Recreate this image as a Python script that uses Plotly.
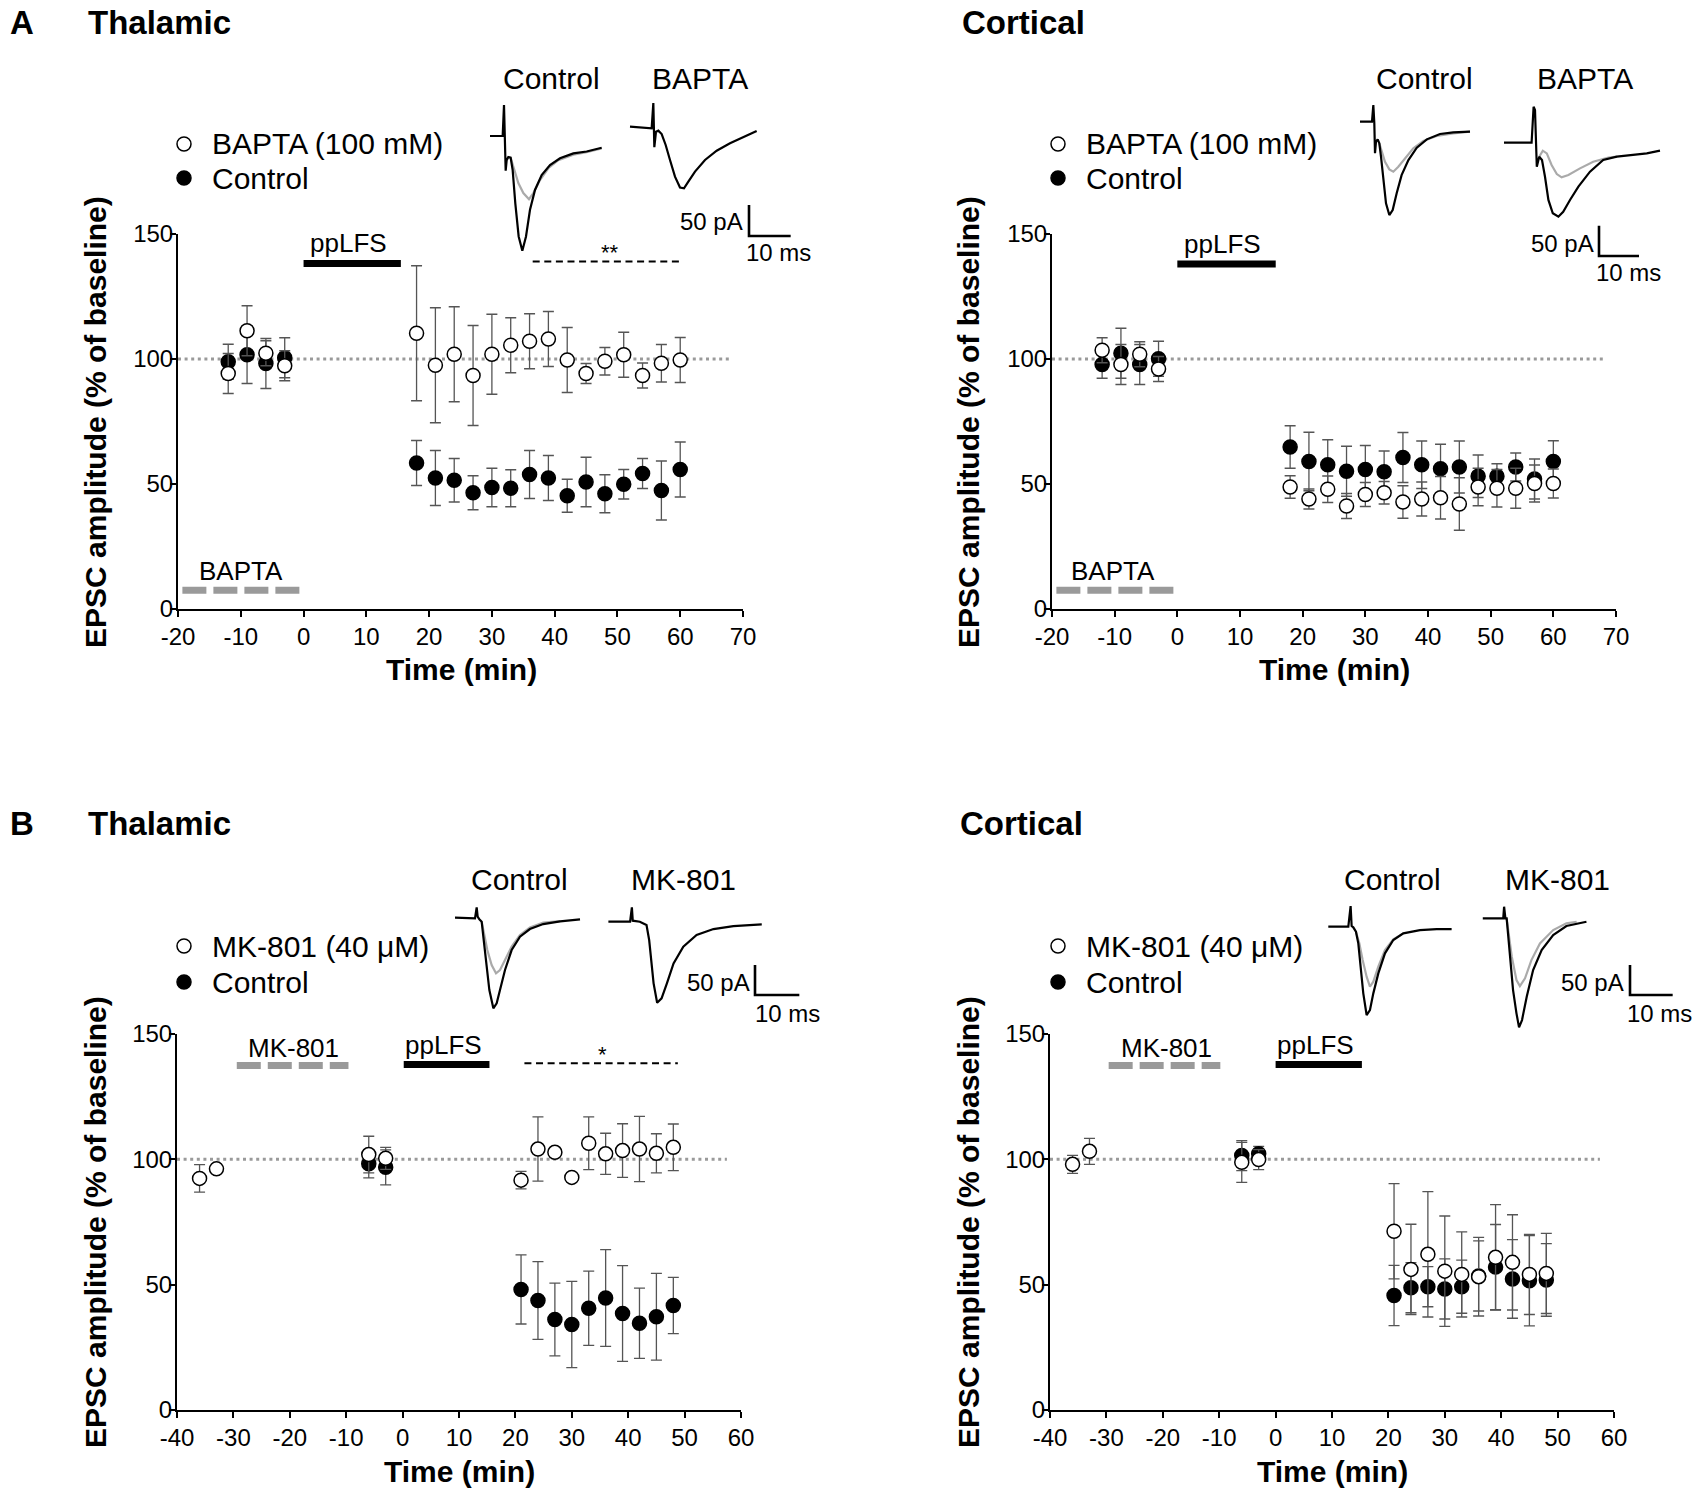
import plotly.graph_objects as go

W, H = 1700, 1497
FONT = "Liberation Sans, Arial, sans-serif"

# ---------------- data ----------------
# Panel A: BAPTA experiments, time in min, EPSC amplitude in % of baseline
t_A = [-12, -9, -6, -3, 18, 21, 24, 27, 30, 33, 36, 39, 42, 45, 48, 51, 54, 57, 60]

A_thal_bapta = [94.2, 111.3, 102.3, 97.3, 110.3, 97.5, 101.9, 93.4, 101.9, 105.5,
                107.1, 108.0, 99.6, 94.2, 99.1, 101.7, 93.4, 98.3, 99.6]
A_thal_bapta_err = [8, 10, 5, 6, 27, 23, 19, 20, 16, 11, 11, 11, 13, 4, 5.5, 9, 5, 7.5, 9]
A_thal_ctrl = [98.9, 101.7, 98.2, 100.5, 58.4, 52.4, 51.5, 46.5, 48.6, 48.3,
               53.8, 52.4, 45.3, 50.8, 46.1, 49.9, 54.2, 47.4, 55.8]
A_thal_ctrl_err = [7, 11.5, 10, 8, 9, 11, 8.7, 6.8, 7.7, 7.4, 9.6, 9, 6.6, 9.9, 7.6, 5.9, 6, 11.8, 11]

A_cort_bapta = [103.5, 97.8, 101.9, 96.0, 48.8, 44.0, 47.9, 41.2, 45.8, 46.5,
                42.8, 44.0, 44.5, 42.0, 48.8, 48.3, 48.3, 50.2, 50.2]
A_cort_bapta_err = [5, 8, 5, 5, 4.5, 4, 5.3, 5, 4.8, 4.5, 6.5, 6.8, 8.5, 10.5, 7.5, 7.5, 8, 7.4, 5.8]
A_cort_ctrl = [97.8, 102.3, 97.8, 100.1, 64.8, 59.0, 57.7, 55.1, 55.8, 54.9,
               60.6, 57.7, 56.1, 56.8, 53.1, 53.1, 56.8, 52.0, 59.0]
A_cort_ctrl_err = [5.5, 10, 8, 7, 8.5, 11.7, 10, 10, 9.6, 8.3, 10, 9.5, 9.8, 10.4, 8.5, 5, 5.6, 8, 8.3]

# Panel B: MK-801 experiments
t_B_drug = [-36, -33, -6, -3, 21, 24, 27, 30, 33, 36, 39, 42, 45, 48]
t_B_ctrl = [-6, -3, 21, 24, 27, 30, 33, 36, 39, 42, 45, 48]

B_thal_mk = [92.4, 96.2, 101.9, 100.4, 91.7, 104.1, 102.8, 92.8, 106.4, 102.2, 103.5, 104.1, 102.4, 104.8]
B_thal_mk_err = [5.5, 0, 7.3, 4.4, 3.5, 12.8, 0, 0, 10.5, 8.2, 10.7, 13, 7.8, 9.3]
B_thal_ctrl = [98.2, 96.8, 48.1, 43.7, 36.1, 34.1, 40.6, 44.7, 38.5, 34.6, 37.2, 41.7]
B_thal_ctrl_err = [5.6, 7, 13.8, 15.5, 14.5, 17.2, 14.8, 19.3, 19.1, 14, 17.3, 11.2]

B_cort_mk = [98.0, 103.2, 98.8, 99.9, 71.3, 56.1, 62.1, 55.4, 54.1, 53.2, 60.9, 58.9, 54.1, 54.5]
B_cort_mk_err = [3.6, 5.2, 8, 4, 19, 18, 25, 22, 17, 15.7, 21, 19, 16, 16]
B_cort_ctrl = [101.5, 102.2, 45.7, 48.8, 49.2, 48.3, 49.2, 53.5, 57.0, 52.3, 51.6, 51.9]
B_cort_ctrl_err = [6, 3, 12, 10, 8, 12, 10.6, 14, 17, 15.7, 18, 14.5]

# treatment periods / significance spans (min)
A_thal_drug_period = [-19.3, -0.65]
A_thal_pplfs = [0, 15.5]
A_thal_sig = [36.5, 60.5]
A_cort_drug_period = [-19.3, -0.45]
A_cort_pplfs = [0, 15.7]
B_thal_drug_period = [-29.4, -9.6]
B_thal_pplfs = [0.2, 15.4]
B_thal_sig = [21.6, 48.8]
B_cort_drug_period = [-29.6, -9.8]
B_cort_pplfs = [0, 15.3]

# Example EPSC traces (time in ms, current in pA)
A_thal_tr_ctrl_t = [0, 3.04, 3.36, 3.6, 3.76, 4.0, 4.4, 4.96, 5.44, 6.08, 6.88, 7.76, 8.64, 9.6, 10.8, 12.4, 14.4, 16.8, 20.0, 23.2, 26.8]
A_thal_tr_ctrl_i = [0, 0, 50, -2, -56, -39, -34, -35, -55, -109, -162, -185, -162, -119, -87, -63, -47, -36, -28, -25, -19]
A_thal_tr_ctrl_post_t = [4.96, 5.6, 6.8, 8.0, 9.36, 10.4, 12.0, 14.0, 16.4, 20.0, 23.2, 26.8]
A_thal_tr_ctrl_post_i = [-35, -49, -76, -92, -102, -92, -71, -52, -39, -30, -26, -20]
A_thal_tr_drug_t = [33.6, 38.8, 39.2, 39.44, 39.84, 40.4, 41.2, 42.16, 43.2, 44.4, 45.6, 46.56, 47.6, 49.2, 51.6, 54.4, 57.6, 60.8, 64.0]
A_thal_tr_drug_i = [15, 12.4, 53, -18, 7, 8.6, 3.2, -14.5, -38.7, -65.6, -83, -84.4, -73.7, -57.5, -38.7, -23.7, -11.8, -2.2, 8]

A_cort_tr_ctrl_t = [0, 3.0, 3.33, 3.58, 3.75, 4.0, 4.42, 4.83, 5.25, 5.83, 6.5, 7.33, 8.17, 9.17, 10.4, 12.1, 14.2, 16.7, 20.0, 23.3, 27.5]
A_cort_tr_ctrl_i = [0, 0, 27.5, -2.7, -52, -33, -29, -35.7, -57.7, -96, -134.6, -153.9, -145.6, -118, -88, -63.2, -42.9, -29.1, -20.3, -17.6, -16.5]
A_cort_tr_ctrl_post_t = [4.83, 5.42, 6.25, 7.33, 8.33, 9.58, 11.25, 13.33, 15.83, 19.17, 23.3, 27.5]
A_cort_tr_ctrl_post_i = [-35.7, -49.5, -66, -78.6, -82.4, -74.2, -60.4, -44, -31.9, -23.6, -19.2, -16.5]
A_cort_tr_drug_t = [36.0, 42.9, 43.4, 43.75, 44.2, 44.8, 45.5, 46.25, 47.1, 48.2, 49.6, 50.8, 52.5, 54.6, 57.5, 60.8, 64.2, 67.5, 71.7, 75.0]
A_cort_tr_drug_i = [-34.6, -34.6, 24.7, 19.2, -74.2, -57.7, -63.2, -90.7, -129, -151, -156.6, -148.4, -129, -107, -82.4, -63.2, -57.7, -55, -52.2, -47.8]
A_cort_tr_drug_post_t = [44.8, 45.7, 46.7, 47.9, 49.2, 50.4, 52.1, 55.0, 58.3, 62.1, 64.2]
A_cort_tr_drug_post_i = [-57.7, -47.8, -52.2, -71.4, -86.3, -91.8, -87.9, -76.9, -65.9, -59.3, -57.7]

B_thal_tr_ctrl_t = [0, 4.51, 4.89, 5.11, 5.49, 6.02, 6.39, 7.0, 7.75, 8.65, 9.4, 10.15, 11.28, 12.78, 14.66, 16.9, 19.9, 23.7, 28.2]
B_thal_tr_ctrl_i = [0, -1.1, 17.2, 1.7, -2.8, -6.7, -31.7, -76, -120.6, -151, -142.8, -120.6, -87.2, -53.9, -31.7, -18.9, -10.6, -6.1, -2.8]
B_thal_tr_ctrl_post_t = [6.02, 6.54, 7.29, 8.27, 9.25, 10.15, 11.28, 12.78, 14.66, 16.9, 19.9, 23.7]
B_thal_tr_ctrl_post_i = [-6.7, -26.1, -53.9, -78.9, -92.8, -87.2, -70.6, -48.3, -28.9, -16.1, -8.3, -5.6]
B_thal_tr_drug_t = [34.6, 39.5, 39.9, 40.1, 41.7, 43.2, 43.8, 44.3, 44.8, 45.6, 46.6, 47.8, 49.3, 51.5, 54.5, 58.3, 62.8, 69.2]
B_thal_tr_drug_i = [-6.7, -6.7, 17.2, -5, -6.7, -12.2, -37.2, -70.6, -109.4, -141.7, -134.5, -109.4, -76.1, -48.3, -28.9, -18.9, -13.9, -11.1]

B_cort_tr_ctrl_t = [0, 4.69, 5.23, 5.47, 5.86, 6.48, 7.03, 7.58, 8.2, 8.98, 9.76, 10.55, 11.72, 13.28, 15.23, 17.58, 21.48, 25.4, 28.9]
B_cort_tr_ctrl_i = [0, 0, 34.4, 1.1, -1.1, -8.3, -27.8, -66.7, -111.1, -147.2, -138.9, -111.1, -77.8, -44.4, -22.2, -11.1, -5.6, -3.9, -3.9]
B_cort_tr_ctrl_post_t = [6.48, 7.27, 8.05, 8.98, 9.76, 10.55, 11.72, 13.28, 15.23, 17.58]
B_cort_tr_ctrl_post_i = [-8.3, -27.8, -55.6, -83.3, -100, -91.7, -66.7, -38.9, -21.1, -11.1]
B_cort_tr_drug_t = [36.2, 41.0, 41.2, 41.5, 41.8, 42.2, 42.7, 43.3, 44.1, 44.7, 45.4, 46.5, 48.0, 50.0, 52.7, 55.8, 60.5]
B_cort_tr_drug_i = [13.9, 13.9, 33.3, 13.9, 13.9, -16.7, -61.1, -105.6, -144.4, -167.8, -155.6, -116.7, -72.2, -38.9, -13.9, 1.1, 8.3]
B_cort_tr_drug_post_t = [41.8, 42.3, 43.0, 44.1, 44.9, 46.1, 47.6, 49.6, 52.7, 55.8, 58.2]
B_cort_tr_drug_post_i = [13.9, -13.9, -50, -88.9, -98.9, -86.1, -55.6, -27.8, -5.6, 5.6, 8.3]

SCALE_MS = 10
SCALE_PA = 50

# ---------------- figure ----------------
fig = go.Figure()
layout = dict(width=W, height=H, margin=dict(l=0, r=0, t=0, b=0, autoexpand=False), autosize=False,
              paper_bgcolor="white", plot_bgcolor="rgba(0,0,0,0)", showlegend=False)
annotations = []
shapes = []


def ann(px, py, text, size, bold=False, xanchor="center", yanchor="middle", angle=0, color="black"):
    annotations.append(dict(x=px / W, y=1 - py / H, xref="paper", yref="paper", text=text,
                            showarrow=False, xanchor=xanchor, yanchor=yanchor, textangle=angle,
                            font=dict(family=FONT, size=size, color=color,
                                      weight="bold" if bold else "normal")))


axis_common = dict(showline=True, linecolor="black", linewidth=2, ticks="outside", ticklen=6,
                   tickwidth=2, tickcolor="black", showgrid=False, zeroline=False,
                   tickfont=dict(family=FONT, size=24, color="black"), fixedrange=True)

panels = [
    dict(n=1, px=(178, 743), py=(234, 609), xr=(-20, 70), t_d=t_A, t_c=t_A,
         drug=A_thal_bapta, drug_err=A_thal_bapta_err, ctrl=A_thal_ctrl, ctrl_err=A_thal_ctrl_err,
         period=A_thal_drug_period, period_y=7.5, period_lab="BAPTA", period_lab_xy=(-10, 15.2),
         pplfs=A_thal_pplfs, pplfs_y=138.2, sig=A_thal_sig, sig_text="**", sig_y=139, sig_lab_xy=(48.8, 142.6),
         dot_end=68),
    dict(n=2, px=(1052, 1616), py=(234, 609), xr=(-20, 70), t_d=t_A, t_c=t_A,
         drug=A_cort_bapta, drug_err=A_cort_bapta_err, ctrl=A_cort_ctrl, ctrl_err=A_cort_ctrl_err,
         period=A_cort_drug_period, period_y=7.5, period_lab="BAPTA", period_lab_xy=(-10.3, 15.2),
         pplfs=A_cort_pplfs, pplfs_y=138, sig=None, dot_end=68),
    dict(n=3, px=(177, 741), py=(1034, 1410), xr=(-40, 60), t_d=t_B_drug, t_c=t_B_ctrl,
         drug=B_thal_mk, drug_err=B_thal_mk_err, ctrl=B_thal_ctrl, ctrl_err=B_thal_ctrl_err,
         period=B_thal_drug_period, period_y=137.4, period_lab="MK-801", period_lab_xy=(-19.3, 144.3),
         pplfs=B_thal_pplfs, pplfs_y=137.8, sig=B_thal_sig, sig_text="*", sig_y=138.3, sig_lab_xy=(35.5, 141.8),
         dot_end=57.5),
    dict(n=4, px=(1050, 1614), py=(1034, 1410), xr=(-40, 60), t_d=t_B_drug, t_c=t_B_ctrl,
         drug=B_cort_mk, drug_err=B_cort_mk_err, ctrl=B_cort_ctrl, ctrl_err=B_cort_ctrl_err,
         period=B_cort_drug_period, period_y=137.4, period_lab="MK-801", period_lab_xy=(-19.3, 144.3),
         pplfs=B_cort_pplfs, pplfs_y=137.8, sig=None, dot_end=57.5),
]

for p in panels:
    n = p["n"]
    xa, ya = f"x{n}", f"y{n}"
    xt = list(range(int(p["xr"][0]), int(p["xr"][1]) + 1, 10))
    layout[f"xaxis{n}"] = dict(axis_common, domain=[p["px"][0] / W, p["px"][1] / W],
                               range=list(p["xr"]), anchor=ya, tickvals=xt,
                               ticktext=[str(v) for v in xt], ticklabelstandoff=-1)
    layout[f"yaxis{n}"] = dict(axis_common, domain=[1 - p["py"][1] / H, 1 - p["py"][0] / H],
                               range=[0, 150], anchor=xa, tickvals=[0, 50, 100, 150],
                               ticktext=["0", "50", "100", "150"], ticklabelstandoff=-8)
    # control (filled) first, drug (open) on top
    fig.add_trace(go.Scatter(x=p["t_c"], y=p["ctrl"], mode="markers", xaxis=xa, yaxis=ya,
                             marker=dict(symbol="circle", size=14, color="black",
                                         line=dict(color="black", width=1.5)),
                             error_y=dict(type="data", array=p["ctrl_err"], color="#555",
                                          thickness=1.3, width=5.5), cliponaxis=False))
    fig.add_trace(go.Scatter(x=p["t_d"], y=p["drug"], mode="markers", xaxis=xa, yaxis=ya,
                             marker=dict(symbol="circle", size=14, color="white",
                                         line=dict(color="black", width=1.5)),
                             error_y=dict(type="data", array=p["drug_err"], color="#555",
                                          thickness=1.3, width=5.5), cliponaxis=False))
    # baseline dotted line
    shapes.append(dict(type="line", xref=xa, yref=ya, x0=p["xr"][0], x1=p["dot_end"], y0=100, y1=100,
                       layer="below", line=dict(color="#9a9a9a", width=3, dash="3px,3.6px")))
    # drug application bar (grey dashed)
    shapes.append(dict(type="line", xref=xa, yref=ya, x0=p["period"][0], x1=p["period"][1],
                       y0=p["period_y"], y1=p["period_y"],
                       line=dict(color="#9a9a9a", width=7, dash="24px,7px")))
    annotations.append(dict(x=p["period_lab_xy"][0], y=p["period_lab_xy"][1], xref=xa, yref=ya,
                            text=p["period_lab"], showarrow=False,
                            font=dict(family=FONT, size=26, color="black")))
    # ppLFS bar
    shapes.append(dict(type="line", xref=xa, yref=ya, x0=p["pplfs"][0], x1=p["pplfs"][1],
                       y0=p["pplfs_y"], y1=p["pplfs_y"], line=dict(color="black", width=7)))
    annotations.append(dict(x=(p["pplfs"][0] + p["pplfs"][1]) / 2 - 0.6, y=p["pplfs_y"] + 8,
                            xref=xa, yref=ya, text="ppLFS", showarrow=False,
                            font=dict(family=FONT, size=26, color="black")))
    if p["sig"] is not None:
        shapes.append(dict(type="line", xref=xa, yref=ya, x0=p["sig"][0], x1=p["sig"][1],
                           y0=p["sig_y"], y1=p["sig_y"],
                           line=dict(color="black", width=2, dash="7px,4.6px")))
        annotations.append(dict(x=p["sig_lab_xy"][0], y=p["sig_lab_xy"][1], xref=xa, yref=ya,
                                text=p["sig_text"], showarrow=False,
                                font=dict(family=FONT, size=22, color="black")))

# ---------------- insets with example traces ----------------
insets = [
    dict(n=5, origin=(490, 136), pxms=4.1667, pxpa=0.62, box=(470, 830, 88, 272), bar=(749, 236),
         ctrl=(A_thal_tr_ctrl_t, A_thal_tr_ctrl_i), ctrl_post=(A_thal_tr_ctrl_post_t, A_thal_tr_ctrl_post_i),
         drug=(A_thal_tr_drug_t, A_thal_tr_drug_i), drug_post=None),
    dict(n=6, origin=(1360, 121.7), pxms=4.0, pxpa=0.6067, box=(1340, 1690, 88, 290), bar=(1599, 256),
         ctrl=(A_cort_tr_ctrl_t, A_cort_tr_ctrl_i), ctrl_post=(A_cort_tr_ctrl_post_t, A_cort_tr_ctrl_post_i),
         drug=(A_cort_tr_drug_t, A_cort_tr_drug_i), drug_post=(A_cort_tr_drug_post_t, A_cort_tr_drug_post_i)),
    dict(n=7, origin=(455, 917.7), pxms=4.433, pxpa=0.6, box=(440, 840, 888, 1030), bar=(755, 995),
         ctrl=(B_thal_tr_ctrl_t, B_thal_tr_ctrl_i), ctrl_post=(B_thal_tr_ctrl_post_t, B_thal_tr_ctrl_post_i),
         drug=(B_thal_tr_drug_t, B_thal_tr_drug_i), drug_post=None),
    dict(n=8, origin=(1328.3, 926.7), pxms=4.267, pxpa=0.6, box=(1320, 1700, 888, 1040), bar=(1630, 995),
         ctrl=(B_cort_tr_ctrl_t, B_cort_tr_ctrl_i), ctrl_post=(B_cort_tr_ctrl_post_t, B_cort_tr_ctrl_post_i),
         drug=(B_cort_tr_drug_t, B_cort_tr_drug_i), drug_post=(B_cort_tr_drug_post_t, B_cort_tr_drug_post_i)),
]

for s in insets:
    n = s["n"]
    ox, oy = s["origin"]
    x1, x2, y1, y2 = s["box"]
    layout[f"xaxis{n}"] = dict(domain=[x1 / W, x2 / W], range=[(x1 - ox) / s["pxms"], (x2 - ox) / s["pxms"]],
                               anchor=f"y{n}", visible=False, fixedrange=True)
    layout[f"yaxis{n}"] = dict(domain=[1 - y2 / H, 1 - y1 / H],
                               range=[-(y2 - oy) / s["pxpa"], -(y1 - oy) / s["pxpa"]],
                               anchor=f"x{n}", visible=False, fixedrange=True)
    xa, ya = f"x{n}", f"y{n}"
    for tr, col in [(s["ctrl_post"], "#aaaaaa"), (s["drug_post"], "#aaaaaa"),
                    (s["ctrl"], "black"), (s["drug"], "black")]:
        if tr is None:
            continue
        fig.add_trace(go.Scatter(x=tr[0], y=tr[1], mode="lines", xaxis=xa, yaxis=ya,
                                 line=dict(color=col, width=2.2), hoverinfo="skip"))
    # scale bar
    bt = (s["bar"][0] - ox) / s["pxms"]
    bi = -(s["bar"][1] - oy) / s["pxpa"]
    fig.add_trace(go.Scatter(x=[bt, bt, bt + SCALE_MS], y=[bi + SCALE_PA, bi, bi], mode="lines",
                             xaxis=xa, yaxis=ya, line=dict(color="black", width=2.6), hoverinfo="skip"))

# ---------------- legends (pixel overlay axis) ----------------
layout["xaxis9"] = dict(domain=[0, 1], range=[0, W], anchor="y9", visible=False, fixedrange=True)
layout["yaxis9"] = dict(domain=[0, 1], range=[H, 0], anchor="x9", visible=False, fixedrange=True)
legend_pos = [(184, 144, 178, "BAPTA (100 mM)"), (1058, 144, 178, "BAPTA (100 mM)"),
              (184, 946, 982, "MK-801 (40 μM)"), (1058, 946, 982, "MK-801 (40 μM)")]
fig.add_trace(go.Scatter(x=[l[0] for l in legend_pos], y=[l[1] for l in legend_pos], mode="markers",
                         xaxis="x9", yaxis="y9",
                         marker=dict(size=14, color="white", line=dict(color="black", width=1.5))))
fig.add_trace(go.Scatter(x=[l[0] for l in legend_pos], y=[l[2] for l in legend_pos], mode="markers",
                         xaxis="x9", yaxis="y9",
                         marker=dict(size=14, color="black", line=dict(color="black", width=1.5))))
for lx, ly1, ly2, lab in legend_pos:
    ann(lx + 26, ly1, lab, 30, xanchor="left")
    ann(lx + 26, ly2, "Control", 30, xanchor="left")

# ---------------- titles and labels ----------------
ann(8, 22, "A", 33, bold=True, xanchor="left")
ann(86, 22, "Thalamic", 33, bold=True, xanchor="left")
ann(960, 22, "Cortical", 33, bold=True, xanchor="left")
ann(8, 823, "B", 33, bold=True, xanchor="left")
ann(86, 823, "Thalamic", 33, bold=True, xanchor="left")
ann(958, 823, "Cortical", 33, bold=True, xanchor="left")

# inset headers
for px_, py_, txt in [(551, 79, "Control"), (700, 79, "BAPTA"), (1424, 79, "Control"), (1585, 79, "BAPTA"),
                      (519, 879, "Control"), (683, 879, "MK-801"), (1392, 879, "Control"), (1557, 879, "MK-801")]:
    ann(px_, py_, txt, 30)

# scale-bar labels
for rx, ry, cx, cy in [(745, 221, 778, 253), (1596, 243, 1628, 273), (752, 983, 787, 1013), (1626, 982, 1659, 1013)]:
    ann(rx, ry, "50 pA", 24, xanchor="right")
    ann(cx, cy, "10 ms", 24)

# axis titles
for cx, cy in [(95, 422), (968, 422), (95, 1222), (968, 1222)]:
    ann(cx, cy, "EPSC amplitude (% of baseline)", 30, bold=True, angle=-90)
for cx, cy in [(461, 670), (1334, 670), (459, 1471), (1332, 1471)]:
    ann(cx, cy, "Time (min)", 30, bold=True)

layout["annotations"] = annotations
layout["shapes"] = shapes
fig.update_layout(**layout)

# let the figure fill the browser window exactly (no default page margin)
page_fix = ("document.body.style.margin='0px';document.body.style.padding='0px';"
            "document.body.style.overflow='hidden';"
            "var d=document.getElementById('{plot_id}');d.style.position='absolute';"
            "d.style.left='0px';d.style.top='0px';")
fig.write_html("out.html", post_script=page_fix, config={"displayModeBar": False})
